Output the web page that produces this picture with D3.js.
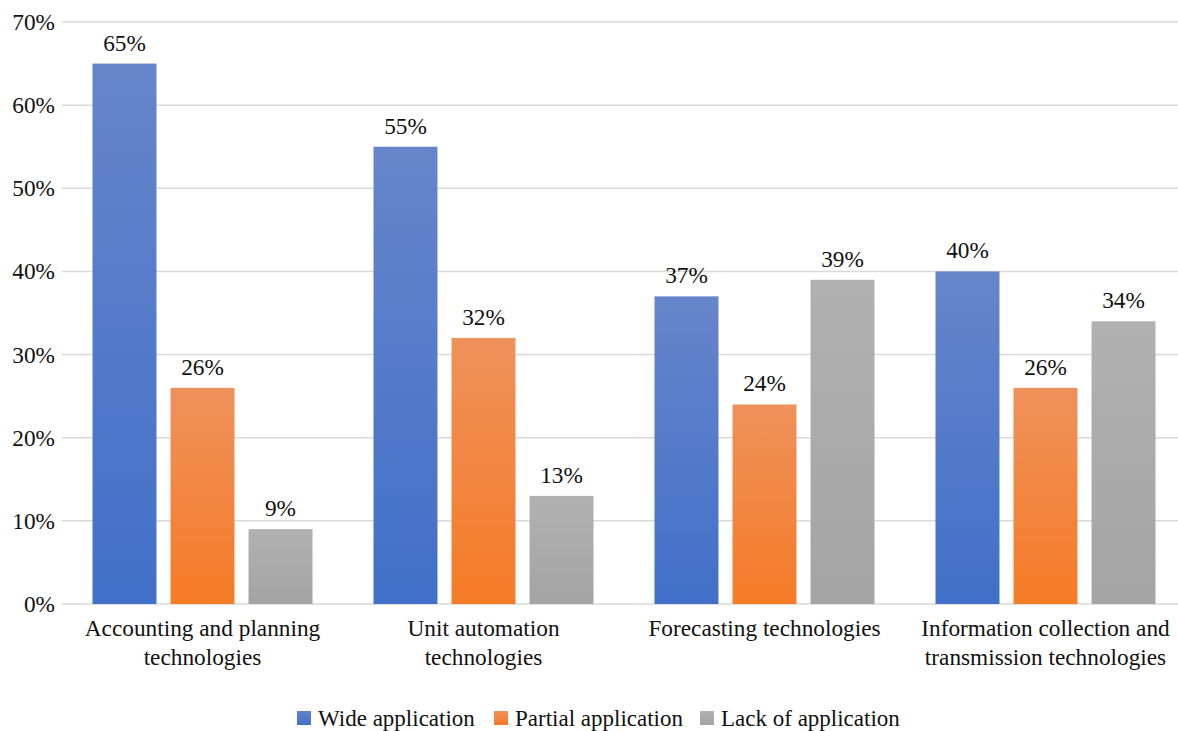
<!DOCTYPE html>
<html>
<head>
<meta charset="utf-8">
<script src="https://cdn.jsdelivr.net/npm/d3@7"></script>
<style>
  body { margin: 0; background: #fff; }
  svg { display: block; }
  svg text { font-family: "Liberation Serif", "Times New Roman", Times, serif; }
</style>
</head>
<body>
<svg id="chart" width="1178" height="731"></svg>
<script>
// chart data
var categories = [
    ["Accounting and planning", "technologies"],
    ["Unit automation", "technologies"],
    ["Forecasting technologies"],
    ["Information collection and", "transmission technologies"]
];
var seriesNames = ["Wide application", "Partial application", "Lack of application"];
var wide = [65, 55, 37, 40];
var partial = [26, 32, 24, 26];
var lack = [9, 13, 39, 34];
var yTicks = [0, 10, 20, 30, 40, 50, 60, 70];

var series = [wide, partial, lack];
var colors = [
    { top: "#6685cb", bottom: "#4170c8" },
    { top: "#ef915b", bottom: "#f57b26" },
    { top: "#b1b1b1", bottom: "#a4a4a4" }
];

var svg = d3.select("#chart");
var plotLeft = 62, plotRight = 1186, plotTop = 22, plotBottom = 604;

var x = d3.scaleBand()
    .domain(d3.range(categories.length))
    .range([plotLeft, plotRight]);

var xInner = d3.scaleBand()
    .domain(d3.range(series.length))
    .range([30.5, x.bandwidth() - 30.5])
    .paddingInner(0.18);

var y = d3.scaleLinear().domain([0, 70]).range([plotBottom, plotTop]);

// gradients, one per series
var defs = svg.append("defs");
colors.forEach(function(c, i)
{
    var g = defs.append("linearGradient")
        .attr("id", "grad" + i)
        .attr("x1", 0).attr("y1", 0)
        .attr("x2", 0).attr("y2", 1);
    g.append("stop").attr("offset", "0%").attr("stop-color", c.top);
    g.append("stop").attr("offset", "100%").attr("stop-color", c.bottom);
});

// gridlines
svg.append("g")
    .selectAll("line")
    .data(yTicks)
    .enter()
    .append("line")
    .attr("x1", plotLeft)
    .attr("x2", 1178)
    .attr("y1", function(d) { return y(d); })
    .attr("y2", function(d) { return y(d); })
    .attr("stroke", "#d9d9d9")
    .attr("stroke-width", 1.5);

// y axis labels
svg.append("g")
    .selectAll("text")
    .data(yTicks)
    .enter()
    .append("text")
    .attr("x", 55)
    .attr("y", function(d) { return y(d) + 8; })
    .attr("text-anchor", "end")
    .attr("font-size", 23.3)
    .attr("fill", "#111")
    .text(function(d) { return d + "%"; });

// bars
series.forEach(function(values, s)
{
    var grp = svg.append("g");

    grp.selectAll("rect")
        .data(values)
        .enter()
        .append("rect")
        .attr("x", function(d, i) { return x(i) + xInner(s); })
        .attr("y", function(d) { return y(d); })
        .attr("width", xInner.bandwidth())
        .attr("height", function(d) { return y(0) - y(d); })
        .attr("fill", "url(#grad" + s + ")");

    grp.selectAll("text")
        .data(values)
        .enter()
        .append("text")
        .attr("x", function(d, i) { return x(i) + xInner(s) + xInner.bandwidth() / 2; })
        .attr("y", function(d) { return y(d) - 13; })
        .attr("text-anchor", "middle")
        .attr("font-size", 23.3)
        .attr("fill", "#111")
        .text(function(d) { return d + "%"; });
});

// category labels
var cat = svg.append("g")
    .selectAll("text")
    .data(categories)
    .enter()
    .append("text")
    .attr("text-anchor", "middle")
    .attr("font-size", 23.3)
    .attr("fill", "#111")
    .attr("transform", function(d, i) { return "translate(" + (x(i) + x.bandwidth() / 2) + ",636)"; });

cat.selectAll("tspan")
    .data(function(d) { return d; })
    .enter()
    .append("tspan")
    .attr("x", 0)
    .attr("dy", function(d, i) { return i === 0 ? 0 : 29; })
    .text(function(d) { return d; });

// legend
var legendX = [297, 494, 700];
var legend = svg.append("g")
    .selectAll("g")
    .data(seriesNames)
    .enter()
    .append("g")
    .attr("transform", function(d, i) { return "translate(" + legendX[i] + ",711)"; });

legend.append("rect")
    .attr("width", 14)
    .attr("height", 14)
    .attr("fill", function(d, i) { return "url(#grad" + i + ")"; });

legend.append("text")
    .attr("x", 21)
    .attr("y", 15)
    .attr("font-size", 23)
    .attr("fill", "#111")
    .text(function(d) { return d; });
</script>
</body>
</html>
